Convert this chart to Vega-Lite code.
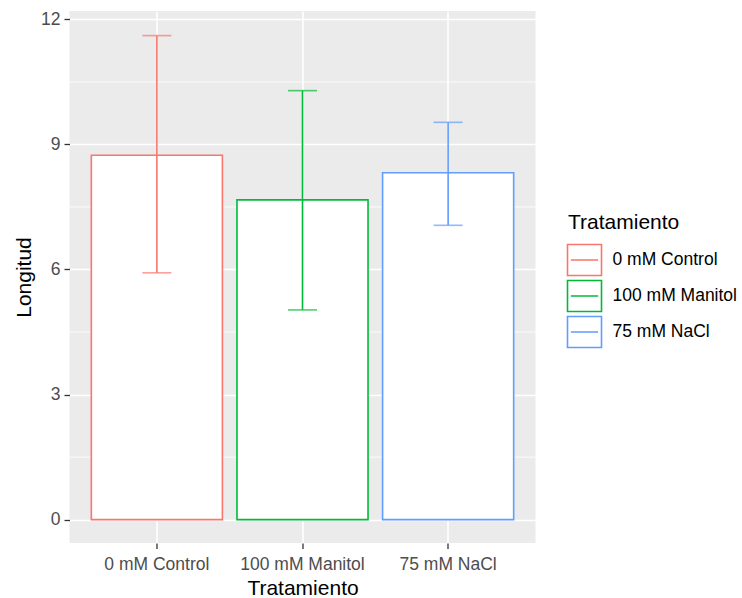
{
  "$schema": "https://vega.github.io/schema/vega-lite/v6.json",
  "width": 466,
  "height": 532,
  "autosize": "none",
  "padding": {"left": 69.5, "top": 11, "right": 206.5, "bottom": 55},
  "background": "white",
  "config": {
    "font": "Liberation Sans",
    "view": {"fill": "#EBEBEB", "stroke": null},
    "axis": {
      "domain": false,
      "tickColor": "#333333",
      "tickSize": 5.5,
      "tickWidth": 1.3,
      "labelColor": "#4D4D4D",
      "labelFontSize": 17.5,
      "labelFont": "Liberation Sans",
      "titleFont": "Liberation Sans",
      "titleFontSize": 21,
      "titleFontWeight": "normal",
      "titleColor": "black",
      "gridColor": "white",
      "gridWidth": 1.6,
      "gridOpacity": 1
    },
    "legend": {
      "titleFont": "Liberation Sans",
      "labelFont": "Liberation Sans"
    }
  },
  "datasets": {
    "minor": [{"v": 1.5}, {"v": 4.5}, {"v": 7.5}, {"v": 10.5}],
    "stats": [
      {"Tratamiento": "0 mM Control", "Longitud": 8.74, "lower": 5.92, "upper": 11.61},
      {"Tratamiento": "100 mM Manitol", "Longitud": 7.67, "lower": 5.03, "upper": 10.29},
      {"Tratamiento": "75 mM NaCl", "Longitud": 8.32, "lower": 7.06, "upper": 9.53}
    ]
  },
  "layer": [
    {
      "data": {"name": "minor"},
      "mark": {"type": "rule", "color": "white", "strokeWidth": 0.8},
      "encoding": {
        "y": {
          "field": "v",
          "type": "quantitative",
          "title": "Longitud",
          "scale": {"domain": [-0.56, 12.2], "nice": false, "zero": false},
          "axis": {
            "title": "Longitud",
            "values": [0, 3, 6, 9, 12],
            "labelPadding": 4,
            "titleX": -39.5,
            "titleBaseline": "alphabetic",
            "grid": true
          }
        }
      }
    },
    {
      "data": {"name": "stats"},
      "mark": {"type": "bar", "fill": "white", "strokeWidth": 1.6},
      "encoding": {
        "x": {
          "field": "Tratamiento",
          "type": "nominal",
          "sort": ["0 mM Control", "100 mM Manitol", "75 mM NaCl"],
          "scale": {"paddingInner": 0.1, "paddingOuter": 0.15},
          "axis": {
            "title": "Tratamiento",
            "labelAngle": 0,
            "bandPosition": 0.5,
            "grid": true,
            "labelBaseline": "alphabetic",
            "labelPadding": 21,
            "titleY": 51.3,
            "titleBaseline": "alphabetic"
          }
        },
        "y": {"field": "Longitud", "type": "quantitative", "title": "Longitud"},
        "y2": {"datum": 0},
        "stroke": {
          "field": "Tratamiento",
          "type": "nominal",
          "sort": ["0 mM Control", "100 mM Manitol", "75 mM NaCl"],
          "scale": {"range": ["#F8766D", "#00BA38", "#619CFF"]},
          "legend": {
            "title": "Tratamiento",
            "orient": "none",
            "legendX": 498.5,
            "legendY": 201,
            "padding": 0,
            "titleFontSize": 21,
            "titleFontWeight": "normal",
            "titleColor": "black",
            "titlePadding": 10.5,
            "labelFontSize": 17.5,
            "labelColor": "black",
            "labelOffset": 11.5,
            "rowPadding": -5.6,
            "symbolType": "M-1.097,-1H1.097V1H-1.097Z M-0.88,0H0.88",
            "symbolSize": 961,
            "symbolStrokeWidth": 1.6,
            "symbolFillColor": "white",
            "encode": {
              "symbols": {"update": {"fill": {"value": "white"}, "strokeWidth": {"value": 1.6}}}
            }
          }
        }
      }
    },
    {
      "data": {"name": "stats"},
      "mark": {"type": "rule", "strokeWidth": 1.6},
      "encoding": {
        "x": {"field": "Tratamiento", "type": "nominal", "sort": ["0 mM Control", "100 mM Manitol", "75 mM NaCl"]},
        "y": {"field": "lower", "type": "quantitative", "title": "Longitud"},
        "y2": {"field": "upper"},
        "stroke": {"field": "Tratamiento", "type": "nominal", "sort": ["0 mM Control", "100 mM Manitol", "75 mM NaCl"]}
      }
    },
    {
      "data": {"name": "stats"},
      "mark": {"type": "tick", "orient": "horizontal", "size": 29, "thickness": 1.6},
      "encoding": {
        "x": {"field": "Tratamiento", "type": "nominal", "sort": ["0 mM Control", "100 mM Manitol", "75 mM NaCl"]},
        "y": {"field": "upper", "type": "quantitative", "title": "Longitud"},
        "color": {
          "field": "Tratamiento",
          "type": "nominal",
          "sort": ["0 mM Control", "100 mM Manitol", "75 mM NaCl"],
          "scale": {"range": ["#F8766D", "#00BA38", "#619CFF"]},
          "legend": null
        }
      }
    },
    {
      "data": {"name": "stats"},
      "mark": {"type": "tick", "orient": "horizontal", "size": 29, "thickness": 1.6},
      "encoding": {
        "x": {"field": "Tratamiento", "type": "nominal", "sort": ["0 mM Control", "100 mM Manitol", "75 mM NaCl"]},
        "y": {"field": "lower", "type": "quantitative", "title": "Longitud"},
        "color": {
          "field": "Tratamiento",
          "type": "nominal",
          "sort": ["0 mM Control", "100 mM Manitol", "75 mM NaCl"],
          "scale": {"range": ["#F8766D", "#00BA38", "#619CFF"]},
          "legend": null
        }
      }
    }
  ]
}
